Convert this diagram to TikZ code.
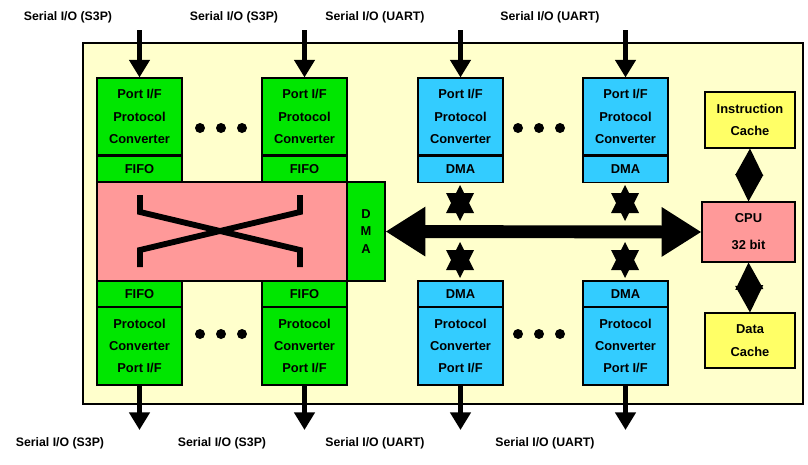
\documentclass[tikz,border=0pt]{standalone}
\usepackage{fontspec}
\setmainfont{Liberation Sans}
\usetikzlibrary{arrows.meta}
\definecolor{bgyel}{RGB}{255,255,204}
\definecolor{grn}{RGB}{0,230,0}
\definecolor{blu}{RGB}{51,204,255}
\definecolor{pnk}{RGB}{255,153,153}
\definecolor{yel}{RGB}{255,255,102}
\tikzset{
  blk/.style={draw=black,line width=0.9pt,font=\bfseries\fontsize{11}{19}\selectfont,align=center,inner sep=0pt},
  lab/.style={font=\bfseries\fontsize{10.5}{12}\selectfont},
  io/.style={-{Triangle[length=15pt,width=17pt]},line width=4pt},
  kdub/.style={{Kite[length=23pt,width=24pt,inset=0pt]}-{Kite[length=23pt,width=24pt,inset=0pt]},line width=3pt},
}
\newcommand{\blockbox}[6]{% name, x1,y1,x2,y2, colour
  \node[blk,fill=#6,minimum width=(#4-#2)*0.03cm,minimum height=(#5-#3)*0.03cm] (#1) at ({(#2+#4)/2},{(#3+#5)/2}) {};}
\newcommand{\hexstar}[2]{% centre x, centre y
  \fill (#1,#2-18)--(#1+14,#2+10)--(#1-14,#2+10)--cycle;
  \fill (#1,#2+18)--(#1+14,#2-10)--(#1-14,#2-10)--cycle;}
\begin{document}
\begin{tikzpicture}[x=0.03cm,y=-0.03cm]
\useasboundingbox (0,0) rectangle (808,464);
\draw[fill=bgyel,line width=0.9pt] (83,43) rectangle (803,404);
% top serial blocks
\foreach \xa/\c/\r in {97/grn/FIFO,262/grn/FIFO,418/blu/DMA,583/blu/DMA}{
  \blockbox{t\xa}{\xa}{78}{\xa+85}{155}{\c}
  \node[blk,fill=\c,minimum width=85*0.03cm,minimum height=26*0.03cm,anchor=north] (tr\xa) at (t\xa.south) {\r};
  \node[blk,draw=none] at (t\xa) {Port I/F\\Protocol\\Converter};
}
% bottom serial blocks
\foreach \xa/\c/\r in {97/grn/FIFO,262/grn/FIFO,418/blu/DMA,583/blu/DMA}{
  \blockbox{br\xa}{\xa}{281}{\xa+85}{307}{\c}
  \node[blk,draw=none] at (br\xa) {\r};
  \blockbox{b\xa}{\xa}{307}{\xa+85}{385}{\c}
  \node[blk,draw=none] at (b\xa) {Protocol\\Converter\\Port I/F};
}
% crossbar
\blockbox{xbar}{97}{182}{347}{281}{pnk}
\blockbox{xdma}{347}{182}{385}{281}{grn}
\node[blk,draw=none,font=\bfseries\fontsize{11}{15}\selectfont] at (xdma) {D\\M\\A};
\draw[line width=5pt] (140,195)--(140,212)--(300,250)--(300,267);
\draw[line width=5pt] (300,195)--(300,212)--(140,250)--(140,267);
% cpu side
\blockbox{icache}{705}{92}{795}{148}{yel}
\node[blk,draw=none] at (icache) {Instruction\\Cache};
\blockbox{cpu}{702}{202}{795}{262}{pnk}
\node[blk,draw=none] at (cpu) {CPU\\[4pt]32 bit};
\blockbox{dcache}{705}{313}{795}{368}{yel}
\node[blk,draw=none] at (dcache) {Data\\Cache};
% bus
\draw[{Triangle[length=34pt,width=40pt]}-{Triangle[length=34pt,width=40pt]},line width=11pt] (xdma.east) -- (cpu.west);
\draw[kdub] (icache.south) -- (cpu.north);
\draw[kdub] (cpu.south) -- (dcache.north);
\foreach \x in {460,625}{
  \hexstar{\x}{203}
  \hexstar{\x}{260}
}
% dots
\foreach \y in {128,334}
  \foreach \x in {200,221,242,518,539,560}
    \fill (\x,\y) circle (5);
% serial i/o
\foreach \xa/\t/\lx in {97/S3P/68,262/S3P/234,418/UART/375,583/UART/550}{
  \coordinate (in\xa) at (t\xa.north|-0,30);
  \draw[io] (in\xa) -- (t\xa.north);
  \node[lab] at (\lx,17) {Serial I/O (\t)};
}
\foreach \xa/\t/\lx in {97/S3P/60,262/S3P/222,418/UART/375,583/UART/545}{
  \coordinate (out\xa) at (b\xa.south|-0,430);
  \draw[io] (b\xa.south) -- (out\xa);
  \node[lab] at (\lx,443) {Serial I/O (\t)};
}
\end{tikzpicture}
\end{document}
